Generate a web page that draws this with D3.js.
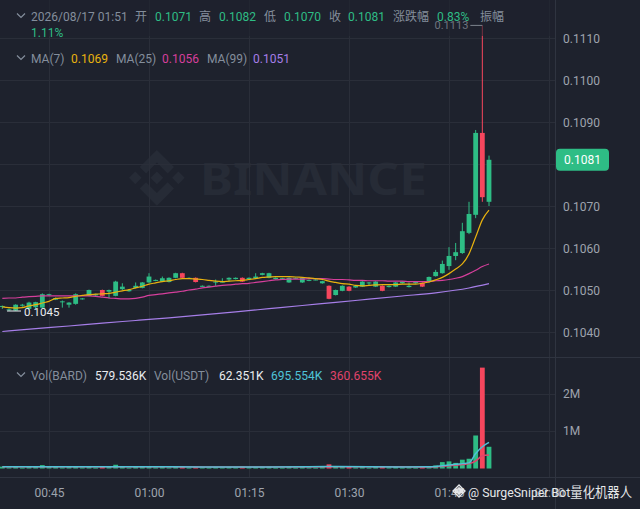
<!DOCTYPE html>
<html lang="zh-CN">
<head>
<meta charset="UTF-8">
<title>BARD/USDT 1m</title>
<script src="https://d3js.org/d3.v7.min.js"></script>
<style>
  html, body { margin: 0; padding: 0; background: #1e222d; }
  svg { display: block; font-family: Roboto, "Noto Sans CJK SC", sans-serif; }
</style>
</head>
<body>
<svg width="640" height="509"></svg>
<script>
// 1 minute candles, 00:38 .. 01:51
const open = [
  0.10460, 0.10452, 0.10451, 0.10465, 0.10455, 0.10459, 0.10458, 0.10488, 0.10477, 0.10472,
  0.10465, 0.10467, 0.10478, 0.10486, 0.10487, 0.10500, 0.10496, 0.10486, 0.10502, 0.10497,
  0.10505, 0.10505, 0.10518, 0.10522, 0.10520, 0.10519, 0.10529, 0.10540, 0.10529, 0.10529,
  0.10509, 0.10510, 0.10518, 0.10519, 0.10525, 0.10526, 0.10529, 0.10526, 0.10528, 0.10536,
  0.10529, 0.10526, 0.10527, 0.10518, 0.10527, 0.10518, 0.10522, 0.10524, 0.10516, 0.10510,
  0.10488, 0.10498, 0.10508, 0.10506, 0.10508, 0.10516, 0.10508, 0.10510, 0.10507, 0.10508,
  0.10516, 0.10507, 0.10516, 0.10517, 0.10519, 0.10533, 0.10540, 0.10557, 0.10581, 0.10588,
  0.10636, 0.10679, 0.10874, 0.10710
];
const high = [
  0.10463, 0.10456, 0.10466, 0.10467, 0.10472, 0.10472, 0.10492, 0.10491, 0.10482, 0.10475,
  0.10471, 0.10492, 0.10481, 0.10501, 0.10491, 0.10501, 0.10501, 0.10522, 0.10516, 0.10501,
  0.10518, 0.10519, 0.10540, 0.10525, 0.10532, 0.10530, 0.10541, 0.10541, 0.10530, 0.10530,
  0.10511, 0.10511, 0.10525, 0.10528, 0.10530, 0.10530, 0.10530, 0.10530, 0.10540, 0.10541,
  0.10541, 0.10530, 0.10529, 0.10530, 0.10530, 0.10530, 0.10525, 0.10526, 0.10522, 0.10511,
  0.10501, 0.10511, 0.10509, 0.10511, 0.10521, 0.10519, 0.10521, 0.10511, 0.10511, 0.10519,
  0.10521, 0.10518, 0.10520, 0.10518, 0.10532, 0.10548, 0.10570, 0.10602, 0.10612, 0.10660,
  0.10710, 0.10881, 0.11130, 0.10820
];
const low = [
  0.10455, 0.10450, 0.10450, 0.10460, 0.10453, 0.10455, 0.10456, 0.10486, 0.10476, 0.10458,
  0.10458, 0.10465, 0.10477, 0.10485, 0.10486, 0.10485, 0.10480, 0.10485, 0.10500, 0.10496,
  0.10504, 0.10504, 0.10517, 0.10521, 0.10519, 0.10518, 0.10528, 0.10528, 0.10528, 0.10518,
  0.10508, 0.10509, 0.10510, 0.10518, 0.10520, 0.10525, 0.10519, 0.10525, 0.10527, 0.10535,
  0.10528, 0.10525, 0.10526, 0.10517, 0.10526, 0.10517, 0.10521, 0.10523, 0.10515, 0.10478,
  0.10487, 0.10497, 0.10497, 0.10505, 0.10507, 0.10510, 0.10507, 0.10497, 0.10506, 0.10507,
  0.10515, 0.10506, 0.10515, 0.10507, 0.10518, 0.10532, 0.10539, 0.10548, 0.10571, 0.10586,
  0.10633, 0.10671, 0.10710, 0.10700
];
const close = [
  0.10462, 0.10454, 0.10465, 0.10465, 0.10470, 0.10471, 0.10490, 0.10490, 0.10481, 0.10473,
  0.10470, 0.10490, 0.10480, 0.10500, 0.10490, 0.10486, 0.10500, 0.10520, 0.10508, 0.10500,
  0.10510, 0.10518, 0.10532, 0.10524, 0.10528, 0.10529, 0.10540, 0.10529, 0.10529, 0.10519,
  0.10510, 0.10510, 0.10520, 0.10520, 0.10529, 0.10529, 0.10520, 0.10529, 0.10532, 0.10540,
  0.10540, 0.10529, 0.10528, 0.10529, 0.10529, 0.10529, 0.10524, 0.10525, 0.10521, 0.10479,
  0.10500, 0.10510, 0.10498, 0.10510, 0.10520, 0.10518, 0.10520, 0.10498, 0.10510, 0.10518,
  0.10520, 0.10510, 0.10519, 0.10508, 0.10531, 0.10543, 0.10562, 0.10581, 0.10590, 0.10640,
  0.10681, 0.10874, 0.10721, 0.10810
];
// volume in BARD
const volume = [
  50000, 30000, 65000, 25000, 60000, 45000, 90000, 40000, 45000, 30000,
  40000, 65000, 30000, 50000, 25000, 60000, 40000, 100000, 45000, 25000,
  40000, 50000, 65000, 30000, 40000, 30000, 60000, 50000, 25000, 45000,
  30000, 25000, 40000, 30000, 40000, 30000, 45000, 30000, 40000, 45000,
  50000, 25000, 25000, 45000, 25000, 45000, 30000, 25000, 40000, 110000,
  60000, 50000, 45000, 30000, 50000, 25000, 45000, 50000, 30000, 45000,
  25000, 30000, 25000, 45000, 65000, 80000, 170000, 190000, 150000, 235000,
  260000, 880000, 2690000, 579536
];
const ma7 = [
  0.10460, 0.10458, 0.10457, 0.10458, 0.10462, 0.10465, 0.10469, 0.10473, 0.10480, 0.10481,
  0.10482, 0.10485, 0.10487, 0.10489, 0.10490, 0.10491, 0.10492, 0.10495, 0.10498, 0.10501,
  0.10505, 0.10509, 0.10514, 0.10517, 0.10520, 0.10522, 0.10525, 0.10527, 0.10527, 0.10526,
  0.10525, 0.10523, 0.10521, 0.10520, 0.10521, 0.10522, 0.10523, 0.10525, 0.10527, 0.10530,
  0.10531, 0.10532, 0.10532, 0.10532, 0.10531, 0.10530, 0.10529, 0.10527, 0.10525, 0.10521,
  0.10518, 0.10515, 0.10514, 0.10511, 0.10510, 0.10511, 0.10512, 0.10513, 0.10513, 0.10513,
  0.10514, 0.10514, 0.10514, 0.10516, 0.10519, 0.10524, 0.10530, 0.10539, 0.10550, 0.10562,
  0.10586, 0.10626, 0.10667, 0.10690
];
const ma25 = [
  0.10480, 0.10481, 0.10481, 0.10483, 0.10484, 0.10485, 0.10486, 0.10486, 0.10486, 0.10486,
  0.10486, 0.10486, 0.10486, 0.10486, 0.10485, 0.10483, 0.10481, 0.10480, 0.10479, 0.10479,
  0.10480, 0.10483, 0.10487, 0.10489, 0.10491, 0.10493, 0.10495, 0.10497, 0.10500, 0.10502,
  0.10505, 0.10507, 0.10509, 0.10511, 0.10512, 0.10514, 0.10515, 0.10516, 0.10518, 0.10520,
  0.10522, 0.10524, 0.10525, 0.10526, 0.10526, 0.10526, 0.10527, 0.10527, 0.10527, 0.10526,
  0.10525, 0.10525, 0.10524, 0.10523, 0.10523, 0.10522, 0.10522, 0.10522, 0.10521, 0.10521,
  0.10521, 0.10520, 0.10520, 0.10520, 0.10520, 0.10522, 0.10523, 0.10525, 0.10528, 0.10532,
  0.10539, 0.10547, 0.10556, 0.10562
];
// MA(99) read at a few candles
const ma99Idx = [0, 5, 10, 15, 20, 25, 30, 35, 40, 45, 50, 55, 60, 65, 70, 73];
const ma99 = [0.104012, 0.104079, 0.104143, 0.104212, 0.104274, 0.104338, 0.104407, 0.104479,
              0.104555, 0.104631, 0.104705, 0.104781, 0.104857, 0.104933, 0.105048, 0.105150];
// volume MA lines read at a few candles
const volMaIdx = [0, 10, 20, 30, 40, 50, 60, 64, 65, 66, 67, 68, 69, 70, 71, 72, 73];
const volMa5 = [48000, 45000, 47000, 40000, 42000, 52000, 42000, 44000, 55000, 75000, 95000,
                115000, 130000, 150000, 400000, 580000, 695554];
const volMa10 = [46000, 45000, 46000, 42000, 42000, 48000, 44000, 43000, 48000, 62000, 75000,
                 90000, 105000, 130000, 200000, 340000, 360655];

const priceTicks = [0.104, 0.105, 0.106, 0.107, 0.108, 0.109, 0.110, 0.111];
const volTicks = [1e6, 2e6];
const volTickLabels = ["1M", "2M"];

const headerLabels = ["2026/08/17 01:51", "开", "高", "低", "收", "涨跌幅", "振幅"];
const headerValues = ["0.1071", "0.1082", "0.1070", "0.1081", "0.83%", "1.11%"];
const maLabels = ["MA(7)", "MA(25)", "MA(99)"];
const maValues = ["0.1069", "0.1056", "0.1051"];
const volLabels = ["Vol(BARD)", "Vol(USDT)"];
const volValues = ["579.536K", "62.351K", "695.554K", "360.655K"];

const C = {
  bg: "#1e222d", grid: "#2a2e39", sep: "#2f3440", text: "#848e9c", axis: "#9ea4ae",
  up: "#2ebd85", down: "#f6465d", ma7: "#e8b20f", ma25: "#d63f9c", ma99: "#a67ee8",
  vma5: "#4fc2d8", vma10: "#e0436b", white: "#eaecef"
};

const W = 640, H = 509, plotRight = 555;
const FS = 12;
const svg = d3.select("svg");
svg.append("rect").attr("width", W).attr("height", H).attr("fill", C.bg);

const times = d3.timeMinute.range(new Date(2026, 7, 17, 0, 38), new Date(2026, 7, 17, 1, 52));
const x = d3.scaleTime()
  .domain([new Date(2026, 7, 17, 0, 37, 39), new Date(2026, 7, 17, 2, 0, 0)])
  .range([0, 549]);
const y = d3.scaleLinear().domain([0.104, 0.111]).range([332, 38]);
const yv = d3.scaleLinear().domain([0, 2e6]).range([468.5, 393.5]);
const bw = 4.8;

// watermark
const logoPath = "M38.73 53.2l24.59-24.58 24.6 24.6 14.3-14.31L63.32 0 24.42 38.9l14.31 14.3zM0 63.31l14.3-14.31 14.31 14.31-14.31 14.3zM38.73 73.41l24.59 24.59 24.6-24.6 14.31 14.29-38.9 38.91-38.91-38.88-.02-.02 14.33-14.29zM97.99 63.31l14.3-14.31 14.32 14.3-14.31 14.32zM77.83 63.3L63.32 48.78 52.59 59.51l-1.24 1.23-2.54 2.54-.02.02.02.03 14.51 14.5 14.51-14.52.01-.01-.01-.01z";
svg.append("path").attr("d", logoPath).attr("fill", "#262b36")
  .attr("transform", "translate(129,150) scale(0.44)");
svg.append("text").attr("x", 200).attr("y", 195).text("BINANCE")
  .attr("font-family", "'Noto Sans', sans-serif").attr("font-weight", 700)
  .attr("font-size", 45).attr("fill", "#262b36")
  .attr("textLength", 227).attr("lengthAdjust", "spacingAndGlyphs");

// grid
const timeTicks = x.ticks(d3.timeMinute.every(15));
svg.append("g").selectAll("line").data(timeTicks).join("line")
  .attr("x1", d => Math.round(x(d)) + 0.5).attr("x2", d => Math.round(x(d)) + 0.5)
  .attr("y1", 0).attr("y2", 478).attr("stroke", C.grid);
svg.append("g").selectAll("line").data(priceTicks).join("line")
  .attr("x1", 0).attr("x2", plotRight).attr("y1", d => Math.round(y(d)) + 0.5)
  .attr("y2", d => Math.round(y(d)) + 0.5).attr("stroke", C.grid);
svg.append("g").selectAll("line").data(volTicks).join("line")
  .attr("x1", 0).attr("x2", plotRight).attr("y1", d => Math.round(yv(d)) + 0.5)
  .attr("y2", d => Math.round(yv(d)) + 0.5).attr("stroke", C.grid);

// pane borders
svg.append("line").attr("x1", 0).attr("x2", W).attr("y1", 357.5).attr("y2", 357.5).attr("stroke", C.sep);
svg.append("line").attr("x1", 0).attr("x2", W).attr("y1", 477.5).attr("y2", 477.5).attr("stroke", C.sep);
svg.append("line").attr("x1", plotRight + 0.5).attr("x2", plotRight + 0.5).attr("y1", 0).attr("y2", H).attr("stroke", C.sep);

svg.append("clipPath").attr("id", "clipP").append("rect").attr("width", plotRight).attr("height", 357);
svg.append("clipPath").attr("id", "clipV").append("rect").attr("y", 358).attr("width", plotRight).attr("height", 119);

const idx = d3.range(times.length);
const col = i => close[i] >= open[i] ? C.up : C.down;

// candles
const cg = svg.append("g").attr("clip-path", "url(#clipP)");
cg.selectAll("line.wick").data(idx).join("line").attr("class", "wick")
  .attr("x1", i => x(times[i])).attr("x2", i => x(times[i]))
  .attr("y1", i => y(high[i])).attr("y2", i => y(low[i]))
  .attr("stroke", col).attr("stroke-width", 1);
cg.selectAll("rect.body").data(idx).join("rect").attr("class", "body")
  .attr("x", i => x(times[i]) - bw / 2).attr("width", bw)
  .attr("y", i => Math.min(y(open[i]), y(close[i])))
  .attr("height", i => Math.max(1, Math.abs(y(open[i]) - y(close[i]))))
  .attr("fill", col);

// MA lines
const lineIdx = (arr, sc) => d3.line().x((d, k) => x(times[arr[k]])).y(d => sc(d)).curve(d3.curveMonotoneX);
const lineAll = sc => d3.line().x((d, i) => x(times[i])).y(d => sc(d)).curve(d3.curveMonotoneX);
cg.append("path").attr("d", lineIdx(ma99Idx, y)(ma99)).attr("fill", "none").attr("stroke", C.ma99).attr("stroke-width", 1.2);
cg.append("path").attr("d", lineAll(y)(ma25)).attr("fill", "none").attr("stroke", C.ma25).attr("stroke-width", 1.2);
cg.append("path").attr("d", lineAll(y)(ma7)).attr("fill", "none").attr("stroke", C.ma7).attr("stroke-width", 1.2);

// volume
const vg = svg.append("g").attr("clip-path", "url(#clipV)");
vg.selectAll("rect").data(idx).join("rect")
  .attr("x", i => x(times[i]) - bw / 2).attr("width", bw)
  .attr("y", i => yv(volume[i])).attr("height", i => Math.max(1, yv(0) - yv(volume[i])))
  .attr("fill", col);
vg.append("path").attr("d", lineIdx(volMaIdx, yv)(volMa10)).attr("fill", "none").attr("stroke", C.vma10).attr("stroke-width", 1.5);
vg.append("path").attr("d", lineIdx(volMaIdx, yv)(volMa5)).attr("fill", "none").attr("stroke", C.vma5).attr("stroke-width", 1.5);

// header dim overlay
svg.append("rect").attr("width", plotRight).attr("height", 36).attr("fill", C.bg).attr("opacity", 0.6);

// high / low markers
const hi = d3.maxIndex(high), lo = d3.minIndex(low);
const hx = x(times[hi]), hy = y(high[hi]);
svg.append("line").attr("x1", hx).attr("x2", hx - 12).attr("y1", hy).attr("y2", hy).attr("stroke", "#7d838d");
svg.append("text").attr("x", hx - 14).attr("y", hy + 4).attr("text-anchor", "end")
  .attr("font-size", 11).attr("fill", "#6f7580").text(d3.format(".4f")(high[hi]));
const lx = x(times[lo]), ly = y(low[lo]);
svg.append("line").attr("x1", lx - 2).attr("x2", lx + 12).attr("y1", ly).attr("y2", ly).attr("stroke", C.white);
svg.append("text").attr("x", lx + 15).attr("y", ly + 4.5)
  .attr("font-size", 11.5).attr("fill", C.white).text(d3.format(".4f")(low[lo]));

// axes
const cy = y(close[close.length - 1]);
const ya = svg.append("g").attr("transform", `translate(${plotRight},0)`)
  .call(d3.axisRight(y).tickValues(priceTicks.filter(d => Math.abs(y(d) - cy) > 14))
    .tickFormat(d3.format(".4f")).tickSize(0).tickPadding(8));
const va = svg.append("g").attr("transform", `translate(${plotRight},0)`)
  .call(d3.axisRight(yv).tickValues(volTicks).tickFormat((d, k) => volTickLabels[k]).tickSize(0).tickPadding(8));
const xa = svg.append("g").attr("transform", "translate(0,478)")
  .call(d3.axisBottom(x).ticks(d3.timeMinute.every(15)).tickFormat(d3.timeFormat("%H:%M")).tickSize(0).tickPadding(10));
[ya, va, xa].forEach(g => {
  g.select(".domain").remove();
  g.selectAll("text").attr("fill", C.axis).attr("font-size", FS)
    .attr("font-family", "Roboto, 'Noto Sans CJK SC', sans-serif");
});
ya.selectAll("text").attr("dy", "0.36em");

// current price tag
svg.append("rect").attr("x", 556).attr("y", cy - 11).attr("width", 53).attr("height", 22)
  .attr("rx", 4).attr("fill", C.up);
svg.append("text").attr("x", 582.5).attr("y", cy + 4.5).attr("text-anchor", "middle")
  .attr("font-size", FS).attr("fill", "#ffffff").text(d3.format(".4f")(close[close.length - 1]));

// legends
function chevron(cyy) {
  svg.append("path").attr("d", `M17,${cyy - 2.5} L21,${cyy + 1.5} L25,${cyy - 2.5}`)
    .attr("fill", "none").attr("stroke", C.text).attr("stroke-width", 1.2);
}
function place(items, yy) {
  items.forEach(it => {
    svg.append("text").attr("x", it.x).attr("y", yy).attr("font-size", FS)
      .attr("fill", it.c).text(it.t);
  });
}
chevron(16);
place([
  { t: headerLabels[0], c: C.text, x: 31 }, { t: headerLabels[1], c: C.text, x: 135 },
  { t: headerValues[0], c: C.up, x: 155 },
  { t: headerLabels[2], c: C.text, x: 199 }, { t: headerValues[1], c: C.up, x: 219 },
  { t: headerLabels[3], c: C.text, x: 264 }, { t: headerValues[2], c: C.up, x: 284 },
  { t: headerLabels[4], c: C.text, x: 329 }, { t: headerValues[3], c: C.up, x: 348 },
  { t: headerLabels[5], c: C.text, x: 393 }, { t: headerValues[4], c: C.up, x: 437 },
  { t: headerLabels[6], c: C.text, x: 480 }
], 20.5);
place([{ t: headerValues[5], c: C.up, x: 31 }], 37);

chevron(58);
place([
  { t: maLabels[0], c: C.text, x: 31 }, { t: maValues[0], c: C.ma7, x: 71 },
  { t: maLabels[1], c: C.text, x: 116 }, { t: maValues[1], c: C.ma25, x: 162 },
  { t: maLabels[2], c: C.text, x: 207 }, { t: maValues[2], c: C.ma99, x: 253 }
], 63);

chevron(375);
place([
  { t: volLabels[0], c: C.text, x: 31 }, { t: volValues[0], c: C.white, x: 95 },
  { t: volLabels[1], c: C.text, x: 154 }, { t: volValues[1], c: C.white, x: 219 },
  { t: volValues[2], c: C.vma5, x: 271 }, { t: volValues[3], c: C.vma10, x: 330 }
], 380);

// bottom watermark
svg.append("path").attr("d", logoPath).attr("fill", "none").attr("stroke", "#e6e8ea")
  .attr("stroke-width", 14).attr("transform", "translate(453,485) scale(0.095)");
svg.append("text").attr("x", 468).attr("y", 497).attr("font-size", 13.5).attr("fill", "#e6e8ea")
  .attr("textLength", 164).attr("lengthAdjust", "spacingAndGlyphs")
  .text("@ SurgeSniper Bot量化机器人");
</script>
</body>
</html>
